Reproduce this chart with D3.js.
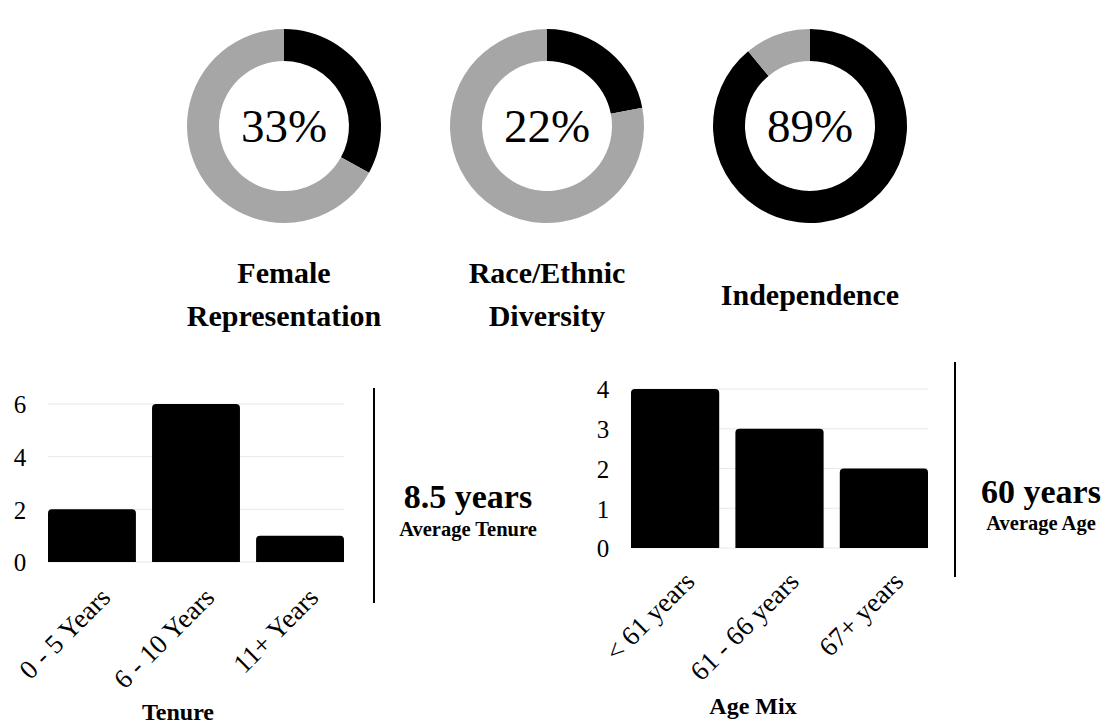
<!DOCTYPE html>
<html><head><meta charset="utf-8">
<script src="https://cdn.jsdelivr.net/npm/d3@7"></script>
<style>body{margin:0;background:#fff;} svg{display:block;} text{font-family:"Liberation Serif","Times New Roman",serif;}</style>
</head><body>
<svg id="c" width="1114" height="725"></svg>
<script>
const donutLabels = [["Female","Representation"],["Race/Ethnic","Diversity"],["Independence"]];
const donutValues = [33, 22, 89];
const tenureCats = ["0 - 5 Years","6 - 10 Years","11+ Years"];
const tenureVals = [2, 6, 1];
const tenureTicks = [0,2,4,6];
const ageCats = ["< 61 years","61 - 66 years","67+ years"];
const ageVals = [4, 3, 2];
const ageTicks = [0,1,2,3,4];
const stats = [["8.5 years","Average Tenure"],["60 years","Average Age"]];

const FF = "Liberation Serif, Times New Roman, serif";
const svg = d3.select("#c");
const dark = "#000", grey = "#a6a6a6";

// Donuts
const centers = [284, 547, 810];
const arc = d3.arc().innerRadius(65).outerRadius(97);
const pie = d3.pie().sort(null).value(d=>d);
donutValues.forEach((v,i)=>{
  const g = svg.append("g").attr("transform",`translate(${centers[i]},126)`);
  g.selectAll("path").data(pie([v,100-v])).join("path")
    .attr("d",arc).attr("fill",(d,j)=>j===0?dark:grey);
  g.append("text").attr("text-anchor","middle").attr("y",16).attr("font-family",FF)
    .attr("font-size",47).text(v+"%");
  const lab = donutLabels[i];
  const t = svg.append("text").attr("text-anchor","middle").attr("font-weight","bold")
    .attr("font-family",FF).attr("font-size",30);
  if(lab.length===2){
    t.append("tspan").attr("x",centers[i]).attr("y",283).text(lab[0]);
    t.append("tspan").attr("x",centers[i]).attr("y",326).text(lab[1]);
  } else {
    t.append("tspan").attr("x",centers[i]).attr("y",305).text(lab[0]);
  }
});

function topRounded(x,y,w,h,r){
  r=Math.min(r,h,w/2);
  return `M${x},${y+h}V${y+r}Q${x},${y} ${x+r},${y}H${x+w-r}Q${x+w},${y} ${x+w},${y+r}V${y+h}Z`;
}

function barChart(cats, vals, ticks, x0, x1, yTop, yBot, maxV, labX, labOff, title, titleX, titleY){
  const x = d3.scaleBand().domain(cats).range([x0,x1]).paddingInner(0.155).paddingOuter(0);
  const y = d3.scaleLinear().domain([0,maxV]).range([yBot,yTop]);
  const g = svg.append("g");
  g.selectAll("line.grid").data(ticks).join("line").attr("class","grid")
    .attr("x1",x0).attr("x2",x1).attr("y1",d=>y(d)).attr("y2",d=>y(d))
    .attr("stroke","#e8e8e8").attr("stroke-width",1);
  const ax = g.append("g").attr("transform",`translate(${labX},0)`)
    .call(d3.axisLeft(y).tickValues(ticks).tickSize(0).tickFormat(d3.format("d")));
  ax.attr("font-family",FF);
  ax.select(".domain").remove();
  ax.selectAll("text").attr("font-family",FF).attr("font-size",25).attr("fill","#000")
    .attr("text-anchor","middle").attr("x",0).attr("dy","0.35em");
  g.selectAll("path.bar").data(vals).join("path").attr("class","bar")
    .attr("d",(d,i)=>topRounded(x(cats[i]),y(d),x.bandwidth(),y(0)-y(d),4))
    .attr("fill",dark);
  g.selectAll("text.cat").data(cats).join("text").attr("class","cat")
    .attr("text-anchor","end").attr("font-size",27).attr("font-family",FF)
    .attr("transform",d=>`translate(${x(d)+x.bandwidth()/2+labOff[0]},${yBot+labOff[1]}) rotate(-45)`)
    .text(d=>d);
  svg.append("text").attr("x",titleX).attr("y",titleY).attr("text-anchor","middle")
    .attr("font-family",FF).attr("font-weight","bold").attr("font-size",24).text(title);
}

barChart(tenureCats, tenureVals, tenureTicks, 48, 344, 404, 562, 6, 20, [20,37], "Tenure", 178, 720);
barChart(ageCats, ageVals, ageTicks, 631, 928, 389, 548, 4, 603, [21,35], "Age Mix", 753, 714);

// dividers and stats
[[374,388,603],[955,362,577]].forEach(d=>{
  svg.append("line").attr("x1",d[0]).attr("x2",d[0]).attr("y1",d[1]).attr("y2",d[2])
    .attr("stroke","#000").attr("stroke-width",2);
});
[[468,508,536],[1041,503,530]].forEach((p,i)=>{
  svg.append("text").attr("x",p[0]).attr("y",p[1]).attr("text-anchor","middle")
    .attr("font-family",FF).attr("font-weight","bold").attr("font-size",34).text(stats[i][0]);
  svg.append("text").attr("x",p[0]).attr("y",p[2]).attr("text-anchor","middle")
    .attr("font-family",FF).attr("font-weight","bold").attr("font-size",20.5).text(stats[i][1]);
});
</script>
</body></html>
